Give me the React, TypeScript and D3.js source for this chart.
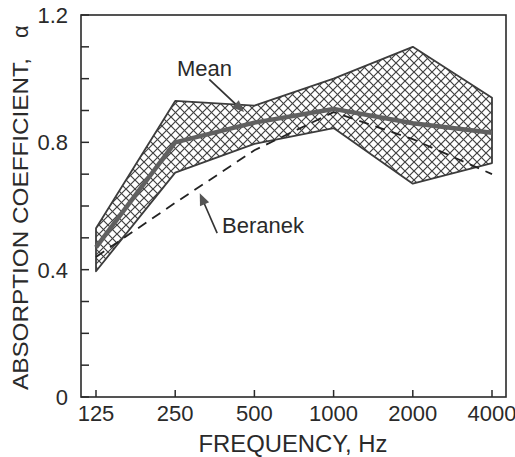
import React from "react";
import * as d3 from "d3";

const frequencies = ["125", "250", "500", "1000", "2000", "4000"];
const upperBound = [0.53, 0.93, 0.915, 1.0, 1.1, 0.94];
const lowerBound = [0.395, 0.705, 0.795, 0.845, 0.67, 0.735];
const meanValues = [0.47, 0.8, 0.862, 0.905, 0.86, 0.83];
const beranekValues = [0.44, 0.61, 0.775, 0.895, 0.81, 0.7];
const yTicks = [0, 0.1, 0.2, 0.3, 0.4, 0.5, 0.6, 0.7, 0.8, 0.9, 1.0, 1.1, 1.2];
const yTickLabels = [0, 0.4, 0.8, 1.2];

const W = 515;
const H = 457;
const left = 81;
const right = 506;
const top = 15;
const bottom = 397;
const FONT = "'Liberation Sans', Arial, Helvetica, sans-serif";
const TEXT = "#2a2a2a";

export default function App() {
  const x = d3.scalePoint<string>().domain(frequencies).range([96, 492]);
  const y = d3.scaleLinear().domain([0, 1.2]).range([bottom, top]);

  const bandData = frequencies.map((f, i) => ({ f, lo: lowerBound[i], hi: upperBound[i] }));
  const area = d3
    .area<{ f: string; lo: number; hi: number }>()
    .x((d) => x(d.f) as number)
    .y0((d) => y(d.lo))
    .y1((d) => y(d.hi));
  const lineOf = (vals: number[]) =>
    d3
      .line<number>()
      .x((_, i) => x(frequencies[i]) as number)
      .y((d) => y(d))(vals) as string;

  const bandOutline = (() => {
    const pts: [number, number][] = [];
    frequencies.forEach((f, i) => pts.push([x(f) as number, y(upperBound[i])]));
    for (let i = frequencies.length - 1; i >= 0; i--) pts.push([x(frequencies[i]) as number, y(lowerBound[i])]);
    return d3.line()(pts) + "Z";
  })();

  const step = x.step();
  // annotation anchors derived from scales
  const meanTip: [number, number] = [(x("250") as number) + 0.87 * step, y(0.895)];
  const meanTail: [number, number] = [(x("250") as number) + 0.43 * step, y(0.998)];
  const berTip: [number, number] = [(x("250") as number) + 0.31 * step, y(0.64)];
  const berTail: [number, number] = [(x("250") as number) + 0.53 * step, y(0.515)];

  const arrowHead = (tail: [number, number], tip: [number, number], len: number, half: number) => {
    const dx = tip[0] - tail[0];
    const dy = tip[1] - tail[1];
    const L = Math.hypot(dx, dy);
    const ux = dx / L;
    const uy = dy / L;
    const bx = tip[0] - ux * len;
    const by = tip[1] - uy * len;
    return `M${tip[0]},${tip[1]}L${bx - uy * half},${by + ux * half}L${bx + uy * half},${by - ux * half}Z`;
  };
  const shortTip = (tail: [number, number], tip: [number, number], len: number): [number, number] => {
    const dx = tip[0] - tail[0];
    const dy = tip[1] - tail[1];
    const L = Math.hypot(dx, dy);
    return [tip[0] - (dx / L) * len, tip[1] - (dy / L) * len];
  };

  return (
    <svg width={W} height={H} style={{ position: "absolute", left: 0, top: 0, background: "#fff" }}>
      <defs>
        <pattern id="hatch" patternUnits="userSpaceOnUse" width="9" height="9">
          <path d="M0,0L9,9M-1,8L1,10M8,-1L10,1" stroke="#404040" strokeWidth="1.2" />
          <path d="M0,9L9,0M-1,1L1,-1M8,10L10,8" stroke="#404040" strokeWidth="1.2" />
        </pattern>
      </defs>

      {/* band */}
      <path d={area(bandData) as string} fill="url(#hatch)" />
      <path d={bandOutline} fill="none" stroke="#3c3c3c" strokeWidth={1.8} strokeLinejoin="round" />

      {/* Beranek dashed */}
      <path d={lineOf(beranekValues)} fill="none" stroke="#222" strokeWidth={1.8} strokeDasharray="10 7" />

      {/* Mean line */}
      <path d={lineOf(meanValues)} fill="none" stroke="#606060" strokeWidth={4.5} strokeLinejoin="round" />

      {/* frame */}
      <rect x={left} y={top} width={right - left} height={bottom - top} fill="none" stroke="#2a2a2a" strokeWidth={1.6} />

      {/* y ticks */}
      {yTicks.map((t) => (
        <line key={"yt" + t} x1={left} x2={left + 8} y1={y(t)} y2={y(t)} stroke="#2a2a2a" strokeWidth={1.5} />
      ))}
      {yTickLabels.map((t) => (
        <text key={"yl" + t} x={68} y={y(t) + 8} fontSize={22} fontFamily={FONT} fill={TEXT} textAnchor="end">
          {t === 0 ? "0" : t.toFixed(1)}
        </text>
      ))}

      {/* x ticks */}
      {frequencies.map((f) => (
        <g key={"xt" + f}>
          <line x1={x(f) as number} x2={x(f) as number} y1={bottom} y2={bottom - 7} stroke="#2a2a2a" strokeWidth={1.5} />
          <text x={x(f) as number} y={421} fontSize={22} fontFamily={FONT} fill={TEXT} textAnchor="middle">
            {f}
          </text>
        </g>
      ))}

      {/* axis titles */}
      <text x={293} y={452} fontSize={23} fontFamily={FONT} fill={TEXT} textAnchor="middle" textLength={189} lengthAdjust="spacingAndGlyphs">
        FREQUENCY, Hz
      </text>
      <g transform="translate(28,390) rotate(-90)">
        <text x={0} y={0} fontSize={22} fontFamily={FONT} fill={TEXT} textAnchor="start" textLength={332} lengthAdjust="spacingAndGlyphs">
          ABSORPTION COEFFICIENT,
        </text>
        <text x={352} y={0} fontSize={22} fontFamily={FONT} fill={TEXT} textAnchor="start">
          α
        </text>
      </g>

      {/* annotations */}
      <text x={177} y={76} fontSize={22} fontFamily={FONT} fill={TEXT}>
        Mean
      </text>
      <line x1={meanTail[0]} y1={meanTail[1]} x2={shortTip(meanTail, meanTip, 8)[0]} y2={shortTip(meanTail, meanTip, 8)[1]} stroke="#333" strokeWidth={1.8} />
      <path d={arrowHead(meanTail, meanTip, 12, 5)} fill="#5a5a5a" />

      <text x={222} y={233} fontSize={22} fontFamily={FONT} fill={TEXT}>
        Beranek
      </text>
      <line x1={berTail[0]} y1={berTail[1]} x2={shortTip(berTail, berTip, 8)[0]} y2={shortTip(berTail, berTip, 8)[1]} stroke="#333" strokeWidth={1.6} />
      <path d={arrowHead(berTail, berTip, 12, 5)} fill="#555" />
    </svg>
  );
}
